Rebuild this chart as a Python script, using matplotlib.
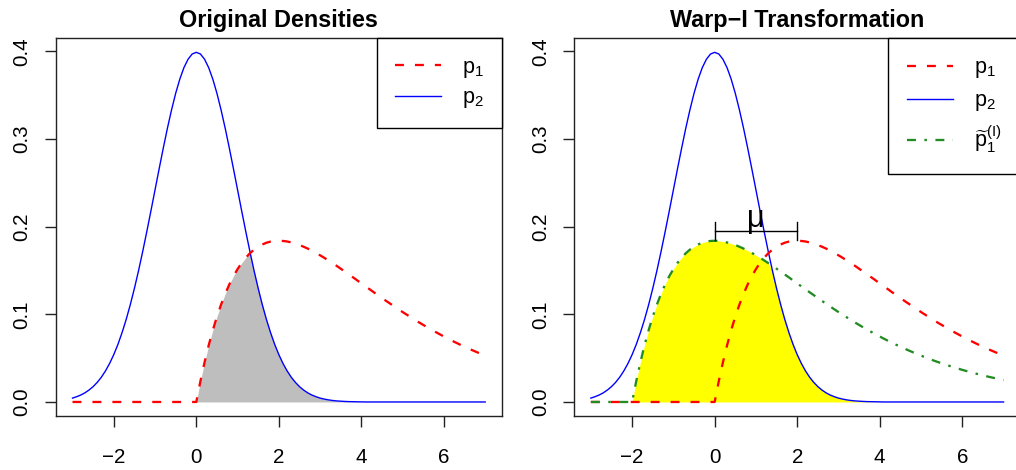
import numpy as np
import matplotlib
matplotlib.use("Agg")
import matplotlib.pyplot as plt

plt.rcParams['font.family'] = ['Liberation Sans', 'DejaVu Sans']
plt.rcParams['mathtext.fontset'] = 'custom'
plt.rcParams['mathtext.rm'] = 'Liberation Sans'
plt.rcParams['mathtext.it'] = 'Liberation Sans:italic'
plt.rcParams['mathtext.bf'] = 'Liberation Sans:bold'

# ---- data (density values on a 0.1 grid) ----
x_grid = np.round(np.arange(-3.0, 7.0001, 0.1), 2)          # plotted x range
p2_neg = [0.0044, 0.0060, 0.0079, 0.0104, 0.0136, 0.0175, 0.0224, 0.0283, 0.0355, 0.0440,
          0.0540, 0.0656, 0.0790, 0.0940, 0.1109, 0.1295, 0.1497, 0.1714, 0.1942, 0.2179,
          0.2420, 0.2661, 0.2897, 0.3123, 0.3332, 0.3521, 0.3683, 0.3814, 0.3910, 0.3970]
p2_pos = [0.3989, 0.3970, 0.3910, 0.3814, 0.3683, 0.3521, 0.3332, 0.3123, 0.2897, 0.2661,
          0.2420, 0.2179, 0.1942, 0.1714, 0.1497, 0.1295, 0.1109, 0.0940, 0.0790, 0.0656,
          0.0540, 0.0440, 0.0355, 0.0283, 0.0224, 0.0175, 0.0136, 0.0104, 0.0079, 0.0060,
          0.0044, 0.0033, 0.0024, 0.0017, 0.0012, 0.0009, 0.0006, 0.0004, 0.0003, 0.0002,
          0.0001] + [0.0] * 30

# p1 tabulated from x = -3 to 9 (0.1 step)
p1_zero_part = [0.0] * 30                                    # x = -3.0 .. -0.1
p1_pos = [0.0000, 0.0238, 0.0452, 0.0646, 0.0819, 0.0974, 0.1111, 0.1233, 0.1341, 0.1435,
          0.1516, 0.1587, 0.1646, 0.1697, 0.1738, 0.1771, 0.1797, 0.1817, 0.1830, 0.1837,
          0.1839, 0.1837, 0.1831, 0.1820, 0.1807, 0.1791, 0.1771, 0.1750, 0.1726, 0.1701,
          0.1673, 0.1645, 0.1615, 0.1584, 0.1553, 0.1520, 0.1488, 0.1454, 0.1421, 0.1387,
          0.1353, 0.1319, 0.1286, 0.1252, 0.1219, 0.1186, 0.1153, 0.1121, 0.1089, 0.1057,
          0.1026, 0.0996, 0.0966, 0.0936, 0.0907, 0.0879, 0.0851, 0.0824, 0.0798, 0.0772,
          0.0747, 0.0722, 0.0698, 0.0675, 0.0652, 0.0631, 0.0609, 0.0588, 0.0568, 0.0548,
          0.0529, 0.0510, 0.0492, 0.0474, 0.0457, 0.0441, 0.0425, 0.0410, 0.0395, 0.0381,
          0.0366, 0.0353, 0.0340, 0.0327, 0.0315, 0.0303, 0.0292, 0.0281, 0.0271, 0.0260,
          0.0250]

mu = 2.0
x_ticks = [-2, 0, 2, 4, 6]
y_ticks = [0.0, 0.1, 0.2, 0.3, 0.4]
y_tick_labels = ["0.0", "0.1", "0.2", "0.3", "0.4"]
titles = ["Original Densities", "Warp\u2212I Transformation"]
labels = [r"$\mathrm{p}_1\!\!\!\!$", r"$\mathrm{p}_2\!\!\!\!$",
          r"$\widetilde{\mathrm{p}}_1^{(\mathrm{I})}$"]

p2 = np.array(p2_neg + p2_pos)
p1 = np.array(p1_zero_part + p1_pos)
n = len(x_grid)
p1_on = p1[:n]                       # p1 on -3..7
shift = int(round(mu / 0.1))
p1_tilde = p1[shift:shift + n]       # p1 shifted left by mu, on -3..7

RED = "#FF0000"
BLUE = "#0000FF"
GREEN = "#228B22"

fig = plt.figure(figsize=(10.16, 4.70), dpi=100)
axL = fig.add_axes([0.0551, 0.1149, 0.4387, 0.8036])
axR = fig.add_axes([0.5653, 0.1149, 0.4387, 0.8036])

red_dash = (0, (3.9, 4.8))
green_dd = (0, (3.9, 3.7, 1.1, 3.7))
LW = 1.65

def style(ax, title):
    ax.set_xlim(-3.4, 7.4)
    ax.set_ylim(-0.016, 0.4149)
    ax.set_xticks(x_ticks)
    ax.set_xticklabels([f"{t}".replace("-", "\u2212") for t in x_ticks])
    ax.set_yticks(y_ticks)
    ax.set_yticklabels(y_tick_labels, rotation=90, va="center")
    ax.tick_params(axis="both", direction="out", length=7.7, width=1.0,
                   labelsize=14.8, color="#222222")
    ax.tick_params(axis="x", pad=15)
    ax.tick_params(axis="y", pad=10)
    for s in ax.spines.values():
        s.set_linewidth(1.0)
        s.set_color("#222222")
    ax.set_title(title, fontsize=16.8, fontweight="bold", pad=8)

# ---- left panel ----
axL.fill_between(x_grid, 0, np.minimum(p1_on, p2), where=x_grid >= 0, color="#BEBEBE", lw=0)
lb, = axL.plot(x_grid, p2, color=BLUE, lw=1.0)
lr, = axL.plot(x_grid, p1_on, color=RED, lw=LW, linestyle=red_dash)
style(axL, titles[0])
legL = axL.legend([lr, lb], [labels[0], labels[1]], loc="upper right",
                  bbox_to_anchor=(1.0, 1.0), borderaxespad=0, fancybox=False,
                  edgecolor="black", framealpha=1, fontsize=15.5, handlelength=2.15,
                  handletextpad=0.95, borderpad=0.85, labelspacing=0.35)
legL.get_frame().set_linewidth(1.0)

# ---- right panel ----
axR.fill_between(x_grid, 0, np.minimum(p1_tilde, p2), where=x_grid >= -mu, color="#FFFF00", lw=0)
rb, = axR.plot(x_grid, p2, color=BLUE, lw=1.0)
rr, = axR.plot(x_grid, p1_on, color=RED, lw=LW, linestyle=red_dash)
rg, = axR.plot(x_grid, p1_tilde, color=GREEN, lw=LW, linestyle=green_dd)
# mu bracket
axR.plot([0, mu], [0.195, 0.195], color="black", lw=1.0)
axR.plot([0, 0], [0.185, 0.205], color="black", lw=1.0)
axR.plot([mu, mu], [0.185, 0.205], color="black", lw=1.0)
axR.text(mu / 2, 0.2, "\u03bc", fontsize=22, ha="center", va="baseline")
style(axR, titles[1])
legR = axR.legend([rr, rb, rg], [labels[0], labels[1], labels[2]],
                  loc="upper right", bbox_to_anchor=(1.0, 1.0), borderaxespad=0,
                  fancybox=False, edgecolor="black", framealpha=1, fontsize=15.5,
                  handlelength=2.15, handletextpad=0.95, borderpad=0.88, labelspacing=0.47)
legR.get_frame().set_linewidth(1.0)

fig.savefig("out.png", dpi=100)
